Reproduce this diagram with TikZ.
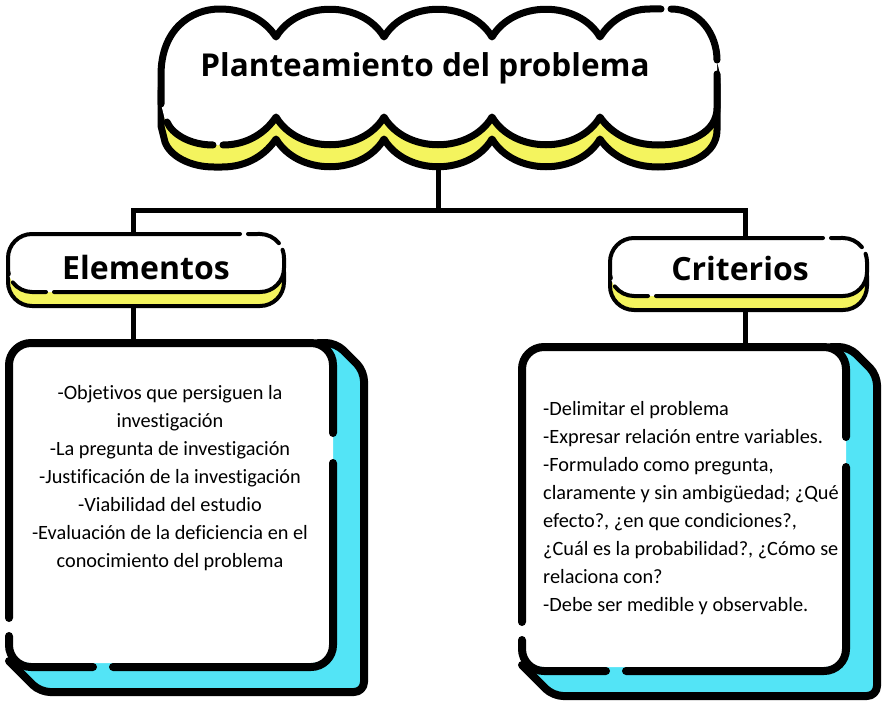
\documentclass[tikz,border=0pt]{standalone}
\usepackage{fontspec}
\setmainfont{Carlito}[Ligatures=NoCommon]
\newfontfamily\headfont{Open Sans}
\definecolor{cyel}{HTML}{F4F45E}
\definecolor{ccyan}{HTML}{53E4F6}
\tikzset{
  thickline/.style={line width=#1, draw=black, line cap=round, line join=round},
  connector/.style={line width=5pt, draw=black, line cap=butt, line join=miter},
  bodytext/.style={font=\fontsize{20.3}{28}\selectfont, inner sep=0pt},
  headtext/.style={font=\headfont\bfseries\fontsize{#1}{#1}\selectfont, inner sep=0pt}
}
\newcommand{\mypill}[3]{%
\begin{scope}[shift={(#1,#2)}]
\pgfmathsetmacro{\pa}{#3-24}\pgfmathsetmacro{\pb}{#3}%
\pgfmathsetmacro{\pg}{#3-44}\pgfmathsetmacro{\ph}{#3-36}%
\pgfmathsetmacro{\pq}{#3-24+18.91}%
\begin{scope}[shift={(0,14)}]
\filldraw[fill=cyel, thickline=4pt] (24,0) -- (\pa,0) arc[start angle=-90,end angle=0,radius=24] -- (\pb,34) arc[start angle=0,end angle=90,radius=24] -- (24,58) arc[start angle=90,end angle=180,radius=24] -- (0,24) arc[start angle=180,end angle=270,radius=24] -- cycle;
\end{scope}
\fill[white] (24,0) -- (\pa,0) arc[start angle=-90,end angle=0,radius=24] -- (\pb,34) arc[start angle=0,end angle=90,radius=24] -- (24,58) arc[start angle=90,end angle=180,radius=24] -- (0,24) arc[start angle=180,end angle=270,radius=24] -- cycle;
\draw[thickline=4pt] (\pg,0) -- (24,0) arc[start angle=270,end angle=180,radius=24] -- (0,34) arc[start angle=180,end angle=165,radius=24];
\draw[thickline=4pt] (4.83,48.44) arc[start angle=143,end angle=90,radius=24] -- (38,58);
\draw[thickline=4pt] (46,58) -- (\pa,58) arc[start angle=90,end angle=0,radius=24] -- (\pb,24) arc[start angle=0,end angle=-20,radius=24];
\draw[thickline=4pt] (\pq,9.22) arc[start angle=-38,end angle=-90,radius=24] -- (\ph,0);
\end{scope}}
\newcommand{\mybox}[2]{%
\begin{scope}[shift={(#1,#2)}]
\fill[ccyan, rounded corners=10] (300,0) -- (327,0) -- (355,28) -- (355,349) -- (31,349) -- (0,318) -- cycle;
\draw[thickline=8pt, rounded corners=10] (309,0) -- (327,0) -- (355,28) -- (355,349) -- (31,349) -- (0,318);
\fill[white, rounded corners=22] (0,0) rectangle (324,320);
\draw[thickline=8pt, rounded corners=22] (0,275) -- (0,0) -- (324,0) -- (324,90);
\draw[thickline=8pt, rounded corners=22] (324,120) -- (324,324) -- (104,324);
\draw[thickline=8pt, rounded corners=22] (84,324) -- (0,324) -- (0,293);
\end{scope}}
\newcommand{\cloudpath}{(161,104) -- (161,75) .. controls (161,30) and (190,9) .. (220,9) .. controls (245,9) and (265,20) .. (276,37)
 .. controls (298,0) and (362,0) .. (384,37)
 .. controls (406,0) and (470,0) .. (492,37)
 .. controls (514,0) and (578,0) .. (600,37)
 .. controls (611,20) and (628,9) .. (650,9) -- (670,9) .. controls (700,9) and (717,35) .. (717,62) -- (717,108)
 .. controls (717,132) and (690,145) .. (658,145) .. controls (630,145) and (610,132) .. (600,117)
 .. controls (578,154) and (514,154) .. (492,117)
 .. controls (470,154) and (406,154) .. (384,117)
 .. controls (362,154) and (298,154) .. (276,117)
 .. controls (266,132) and (248,145) .. (222,145) -- (214,145) .. controls (190,145) and (170,134) .. (165,120) -- (161,104) -- cycle}
\begin{document}
\begin{tikzpicture}[x=1pt,y=-1pt]
\useasboundingbox (0,0) rectangle (882,701);
% connectors
\coordinate (c0) at (438,160);
\coordinate (c1) at (438,210);
\coordinate (cl) at (133,210);
\coordinate (cr) at (745,210);
\coordinate (pl) at (133,238);
\coordinate (pr) at (745,242);
\coordinate (pl2) at (133,300);
\coordinate (bl) at (133,346);
\coordinate (pr2) at (745,302);
\coordinate (br) at (745,350);
\draw[connector] (c0) -- (c1);
\draw[connector] (pl) -- (cl) -- (cr) -- (pr);
\draw[connector] (pl2) -- (bl);
\draw[connector] (pr2) -- (br);
% cloud: yellow shadow
\begin{scope}[shift={(0,22)}]
\filldraw[fill=cyel, thickline=7pt] \cloudpath;
\end{scope}
% cloud: white front
\fill[white] \cloudpath;
\draw[thickline=7pt] (161,104) -- (161,75) .. controls (161,30) and (190,9) .. (220,9) .. controls (245,9) and (265,20) .. (276,37)
 .. controls (298,0) and (362,0) .. (384,37)
 .. controls (406,0) and (470,0) .. (492,37)
 .. controls (514,0) and (578,0) .. (600,37)
 .. controls (611,20) and (628,9) .. (650,9) -- (661,9);
\draw[thickline=7pt] (671,9) .. controls (700,9) and (717,35) .. (717,60);
\draw[thickline=7pt] (717,74) -- (717,108)
 .. controls (717,132) and (690,145) .. (658,145) .. controls (630,145) and (610,132) .. (600,117)
 .. controls (578,154) and (514,154) .. (492,117)
 .. controls (470,154) and (406,154) .. (384,117)
 .. controls (362,154) and (298,154) .. (276,117)
 .. controls (266,132) and (248,145) .. (223,145);
\draw[thickline=7pt] (213,145) .. controls (190,145) and (172,134) .. (167,122);
\node[headtext=31.5] (title) at (425,68) {Planteamiento del problema};
% pills
\mypill{8}{234}{276}
\mypill{610}{238}{257}
\node[headtext=32] (elem) at (146,267) {Elementos};
\node[headtext=32] (crit) at (740,268) {Criterios};
% boxes
\mybox{9}{343}
\mybox{522}{347}
\node[bodytext, align=center] (eltext) at (170,478) {-Objetivos que persiguen la\\investigación\\-La pregunta de investigación\\-Justificación de la investigación\\-Viabilidad del estudio\\-Evaluación de la deficiencia en el\\conocimiento del problema};
\node[bodytext, align=left, anchor=west] (crtext) at (543,508) {-Delimitar el problema\\-Expresar relación entre variables.\\-Formulado como pregunta,\\claramente y sin ambigüedad; ¿Qué\\efecto?, ¿en que condiciones?,\\¿Cuál es la probabilidad?, ¿Cómo se\\relaciona con?\\-Debe ser medible y observable.};
\end{tikzpicture}
\end{document}
